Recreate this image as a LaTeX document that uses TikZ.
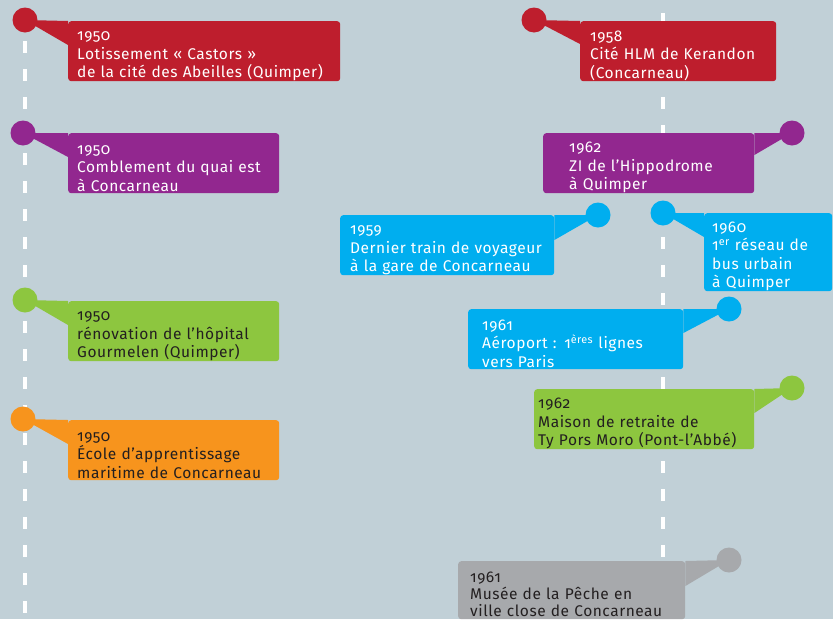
\documentclass[tikz,border=0pt]{standalone}
\usepackage{fontspec}
\setmainfont{Fira Sans}[Numbers=OldStyle,LetterSpace=3.5]
\definecolor{bg}{HTML}{C1D0D7}
\definecolor{cred}{HTML}{BE1E2D}
\definecolor{cpurple}{HTML}{92278F}
\definecolor{cgreen}{HTML}{8DC63F}
\definecolor{corange}{HTML}{F7941D}
\definecolor{cblue}{HTML}{00AEEF}
\definecolor{cgrey}{HTML}{A7A9AC}
\definecolor{ink}{HTML}{231F20}

\begin{document}
\begin{tikzpicture}[x=1pt,y=-1pt,
  dot/.style={circle,inner sep=0pt,minimum size=25pt,fill=#1},
  event/.style={rectangle,rounded corners=3pt,fill=#1,anchor=north west,align=left,
    inner sep=0pt,minimum height=60pt,text=white,
    font=\fontsize{15.5}{18.5}\selectfont,
    execute at begin node={\rule{0pt}{19pt}}},
  textindent/.style={execute at begin node={\leftskip=#1}},
  dark/.style={text=ink},
  timeline/.style={white,line width=4pt,dash pattern=on 12pt off 16pt}]
\clip (0,0) rectangle (833,619);
\fill[bg] (0,0) rectangle (833,619);
\draw[timeline] (25,13)--(25,630);
\draw[timeline] (663,13)--(663,630);
%left side
\node[dot=cred] (d1) at (25,20) {};
\node[event=cred,textindent=9pt,text width=272pt] (e1) at (68,21)
  {1950\\Lotissement « Castors »\\de la cité des Abeilles (Quimper)};
\fill[cred] (d1.center)--(e1.north west)--([yshift=-24pt]e1.north west)--cycle;
\node[dot=cpurple] (d2) at (23,133) {};
\node[event=cpurple,textindent=9pt,text width=211pt] (e2) at (68,133)
  {1950\\Comblement du quai est\\à Concarneau};
\fill[cpurple] (d2.center)--(e2.north west)--([yshift=-24pt]e2.north west)--cycle;
\node[dot=cgreen] (d3) at (25,300) {};
\node[event=cgreen,dark,textindent=9pt,text width=211pt] (e3) at (68,301)
  {1950\\rénovation de l'hôpital\\Gourmelen (Quimper)};
\fill[cgreen] (d3.center)--(e3.north west)--([yshift=-24pt]e3.north west)--cycle;
\node[dot=corange] (d4) at (23,419) {};
\node[event=corange,dark,textindent=9pt,text width=211pt] (e4) at (68,420)
  {1950\\École d’apprentissage\\maritime de Concarneau};
\fill[corange] (d4.center)--(e4.north west)--([yshift=-24pt]e4.north west)--cycle;
%right side
\node[dot=cred] (d5) at (534,20) {};
\node[event=cred,textindent=10pt,text width=196pt] (e5) at (580,21)
  {1958\\Cité HLM de Kerandon\\(Concarneau)};
\fill[cred] (d5.center)--(e5.north west)--([yshift=-23pt]e5.north west)--cycle;
\node[dot=cpurple] (d6) at (792,133) {};
\node[event=cpurple,textindent=26pt,text width=211pt] (e6) at (543,133)
  {1962\\ZI de l'Hippodrome\\à Quimper};
\fill[cpurple] (d6.center)--(e6.north east)--([yshift=-22pt]e6.north east)--cycle;
\node[dot=cblue] (d7) at (598,215) {};
\node[event=cblue,textindent=10pt,text width=214pt] (e7) at (340,215)
  {1959\\Dernier train de voyageur\\à la gare de Concarneau};
\fill[cblue] (d7.center)--(e7.north east)--([yshift=-25pt]e7.north east)--cycle;
\node[dot=cblue] (d8) at (663,213) {};
\node[event=cblue,textindent=8pt,text width=128pt,minimum height=78pt] (e8) at (704,213)
  {1960\\1\textsuperscript{er} réseau de\\bus urbain\\à Quimper};
\fill[cblue] (d8.center)--(e8.north west)--([yshift=-24pt]e8.north west)--cycle;
\node[dot=cblue] (d9) at (729,309) {};
\node[event=cblue,textindent=14pt,text width=215pt] (e9) at (468,309)
  {1961\\Aéroport : 1\textsuperscript{ères} lignes\\vers Paris};
\fill[cblue] (d9.center)--(e9.north east)--([yshift=-24pt]e9.north east)--cycle;
\node[dot=cgreen] (d10) at (792,388) {};
\node[event=cgreen,dark,textindent=4pt,text width=220pt] (e10) at (534,389)
  {1962\\Maison de retraite de\\Ty Pors Moro (Pont-l’Abbé)};
\fill[cgreen] (d10.center)--(e10.north east)--([yshift=-24pt]e10.north east)--cycle;
\node[dot=cgrey] (d11) at (729,560) {};
\node[event=cgrey,dark,textindent=12pt,text width=227pt,minimum height=58pt,
  font=\fontsize{15.5}{17}\selectfont] (e11) at (458,561)
  {1961\\Musée de la Pêche en\\ville close de Concarneau};
\fill[cgrey] (d11.center)--(e11.north east)--([yshift=-25pt]e11.north east)--cycle;
\end{tikzpicture}
\end{document}
